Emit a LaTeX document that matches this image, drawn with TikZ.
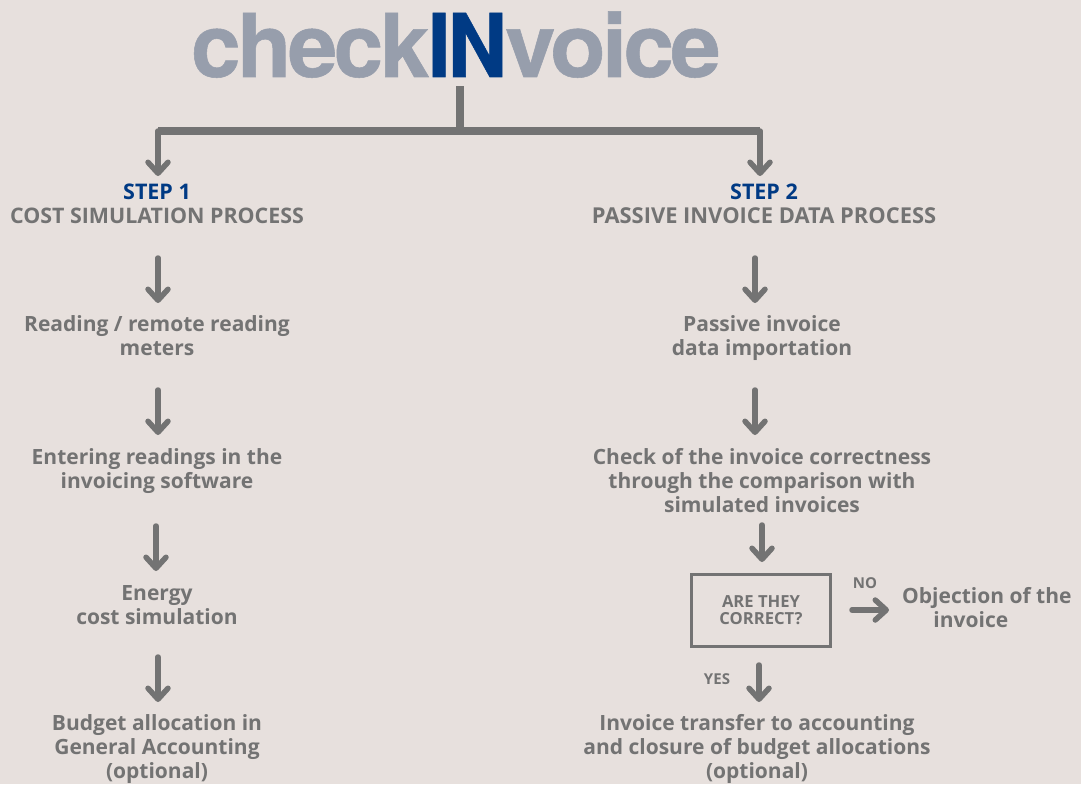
\documentclass[tikz,border=0pt]{standalone}
\usepackage{fontspec}
\usepackage{graphicx}
\usetikzlibrary{arrows.meta}
\setmainfont{Open Sans}[BoldFont={Open Sans Bold}]
\newfontfamily\logofont{TeX Gyre Heros}[BoldFont={TeX Gyre Heros Bold},BoldFeatures={FakeBold=0.6},LetterSpace=-4]
\definecolor{bgc}{HTML}{E7E0DD}
\definecolor{txt}{HTML}{737373}
\definecolor{stepblue}{HTML}{003A84}
\definecolor{logog}{HTML}{979EAC}
\tikzset{
 x=1pt,y=-1pt,
 lab/.style={font=\bfseries\fontsize{21}{24}\selectfont,text=txt,align=center,inner sep=0pt},
 caps/.style={font=\bfseries\fontsize{21.4}{24}\selectfont,text=txt,inner sep=0pt},
 stepl/.style={font=\bfseries\fontsize{21.5}{24}\selectfont,text=stepblue,inner sep=0pt},
 small/.style={font=\bfseries\fontsize{15}{18}\selectfont,text=txt,align=center,inner sep=0pt},
 logo/.style={font=\logofont\bfseries\fontsize{88}{88}\selectfont,inner sep=0pt,anchor=base west},
 arr/.style={draw=txt,line width=5.5pt,line cap=round,-{Straight Barb[length=11pt,width=20pt,line width=5.5pt,round]}},
 bar/.style={draw=txt,line width=8pt},
}
\begin{document}
\begin{tikzpicture}
\useasboundingbox[fill=bgc] (0,0) rectangle (1081,784);
\node[logo,text=logog] (lc) at (191,77) {\scalebox{1.01}[1]{check}};
\node[logo,text=stepblue] (li) at (427.5,77) {\scalebox{0.94}[1]{IN}};
\node[logo,text=logog] (lv) at (505,77) {\scalebox{1.03}[1]{voice}};
\coordinate (t0) at (460,86);
\coordinate (t1) at (460,131);
\coordinate (bl) at (158,131);
\coordinate (br) at (760,131);
\coordinate (bl1) at (158,176);
\coordinate (br1) at (760,176);
\node[stepl] (s1) at (157,192) {STEP 1};
\node[stepl] (s2) at (764,192) {STEP 2};
\node[caps] (p1) at (157,216) {COST SIMULATION PROCESS};
\node[caps,font=\bfseries\fontsize{21.9}{24}\selectfont] (p2) at (764,216) {PASSIVE INVOICE DATA PROCESS};
\node[lab] (a1) at (157,335.5) {Reading / remote reading\\meters};
\node[lab] (a2) at (157,471) {Entering readings in the\\invoicing software};
\node[lab] (a3) at (157,605) {Energy\\cost simulation};
\node[lab] (a4) at (157,749) {Budget allocation in\\General Accounting\\(optional)};
\node[lab] (b1) at (762,338) {Passive invoice\\data importation};
\node[lab] (b2) at (762,480.5) {Check of the invoice correctness\\through the comparison with\\simulated invoices};
\node[draw=txt,line width=3pt,minimum width=139pt,minimum height=72pt,inner sep=0pt,font=\bfseries\fontsize{16.6}{17}\selectfont,text=txt,align=center] (q) at (761,610.5) {ARE THEY\\CORRECT?};
\node[small] (no) at (865,583) {NO};
\node[small] (yes) at (717,679) {YES};
\node[lab,anchor=north west] (ob) at (902,587) {Objection of the\\invoice\rule{32pt}{0pt}};
\node[lab] (b3) at (757,749) {Invoice transfer to accounting\\and closure of budget allocations\\(optional)};
\draw[bar] (t0) -- (t1);
\draw[bar] (bl) -- (br);
\draw[arr] (bl) -- (bl1);
\draw[arr] (br) -- (br1);
\foreach \u/\v/\x/\ya/\yb in {p1/a1/158/258/303,a1/a2/158/390/435,a2/a3/156/526/571,a3/a4/158/657/702,p2/b1/755/258/303,b1/b2/755/390/435,b2/q/762/525/562,q/b3/759/665/702}{
 \coordinate (\u-\v-s) at (\x,\ya);
 \coordinate (\u-\v-e) at (\x,\yb);
 \draw[arr] (\u-\v-s) -- (\u-\v-e);
}
\coordinate (n0) at (852,610);
\coordinate (n1) at (889,610);
\draw[arr] (n0) -- (n1);
\end{tikzpicture}
\end{document}
